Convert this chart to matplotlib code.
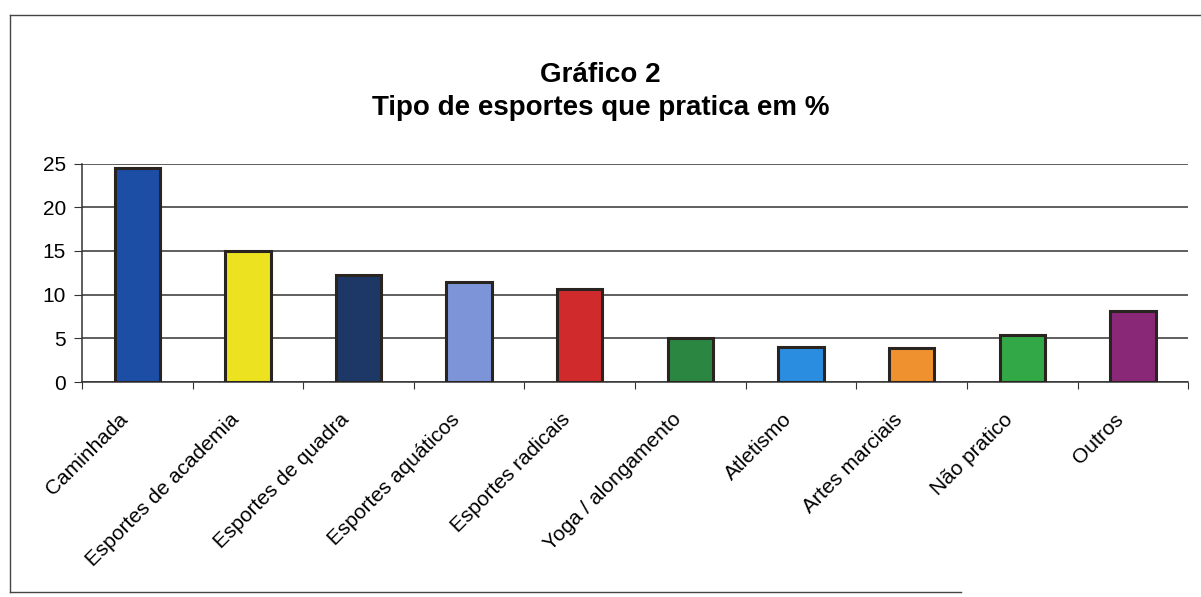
import numpy as np
import matplotlib.pyplot as plt
from matplotlib.lines import Line2D
from matplotlib.transforms import ScaledTranslation

plt.rcParams['font.family'] = ['Liberation Sans', 'DejaVu Sans']

esportes = ['Caminhada', 'Esportes de academia', 'Esportes de quadra',
            'Esportes aquáticos', 'Esportes radicais', 'Yoga / alongamento',
            'Atletismo', 'Artes marciais', 'Não pratico', 'Outros']
percentual = [24.5, 15.0, 12.2, 11.5, 10.6, 5.0, 4.0, 3.9, 5.4, 8.1]
cores = ['#1d4ea6', '#ece21f', '#1d3866', '#7d95d8', '#d02a2c',
         '#2a8640', '#2b8de0', '#f0912f', '#33a846', '#8a2878']

fig = plt.figure(figsize=(12.01, 5.97), dpi=100)
fig.patch.set_facecolor('white')

# chart frame: left, top and bottom edges only
frame = dict(transform=fig.transFigure, color='#444444', linewidth=1.0)
fig.add_artist(Line2D([0.0083, 0.0083], [0.008, 0.975], **frame))
fig.add_artist(Line2D([0.0083, 1.0], [0.975, 0.975], **frame))
fig.add_artist(Line2D([0.0083, 0.80], [0.008, 0.008], **frame))

ax = fig.add_axes([0.0683, 0.36, 0.921, 0.366])
x = np.arange(len(esportes))
ax.bar(x, percentual, width=0.41, color=cores, edgecolor='#2a2420', linewidth=2.2, zorder=3)

ax.set_xlim(-0.5, len(esportes) - 0.5)
ax.set_ylim(0, 25)
ax.set_yticks(np.arange(0, 26, 5))
ax.yaxis.grid(True, color='#333333', linewidth=1.1, zorder=0)
ax.tick_params(axis='y', labelsize=15, length=6, color='#333333', pad=5.5)

# ticks between categories, labels at bar centres
ax.set_xticks(np.arange(len(esportes) + 1) - 0.5)
ax.set_xticklabels([])
ax.set_xticks(x, minor=True)
ax.set_xticklabels(esportes, minor=True, rotation=45, ha='right', va='top',
                   rotation_mode='anchor', fontsize=15)
ax.tick_params(axis='x', which='major', length=5, color='#333333')
ax.tick_params(axis='x', which='minor', length=0, pad=10)
offset = ScaledTranslation(-0.19, -0.14, fig.dpi_scale_trans)
for lbl in ax.get_xticklabels(minor=True):
    lbl.set_transform(lbl.get_transform() + offset)

for s in ['top', 'right']:
    ax.spines[s].set_visible(False)
for s in ['left', 'bottom']:
    ax.spines[s].set_color('#333333')
    ax.spines[s].set_linewidth(1.1)

fig.text(0.5, 0.874, 'Gráfico 2', ha='center', va='center', fontsize=20, fontweight='bold')
fig.text(0.5, 0.819, 'Tipo de esportes que pratica em %', ha='center', va='center',
         fontsize=20, fontweight='bold')

fig.savefig('out.png', dpi=100)
